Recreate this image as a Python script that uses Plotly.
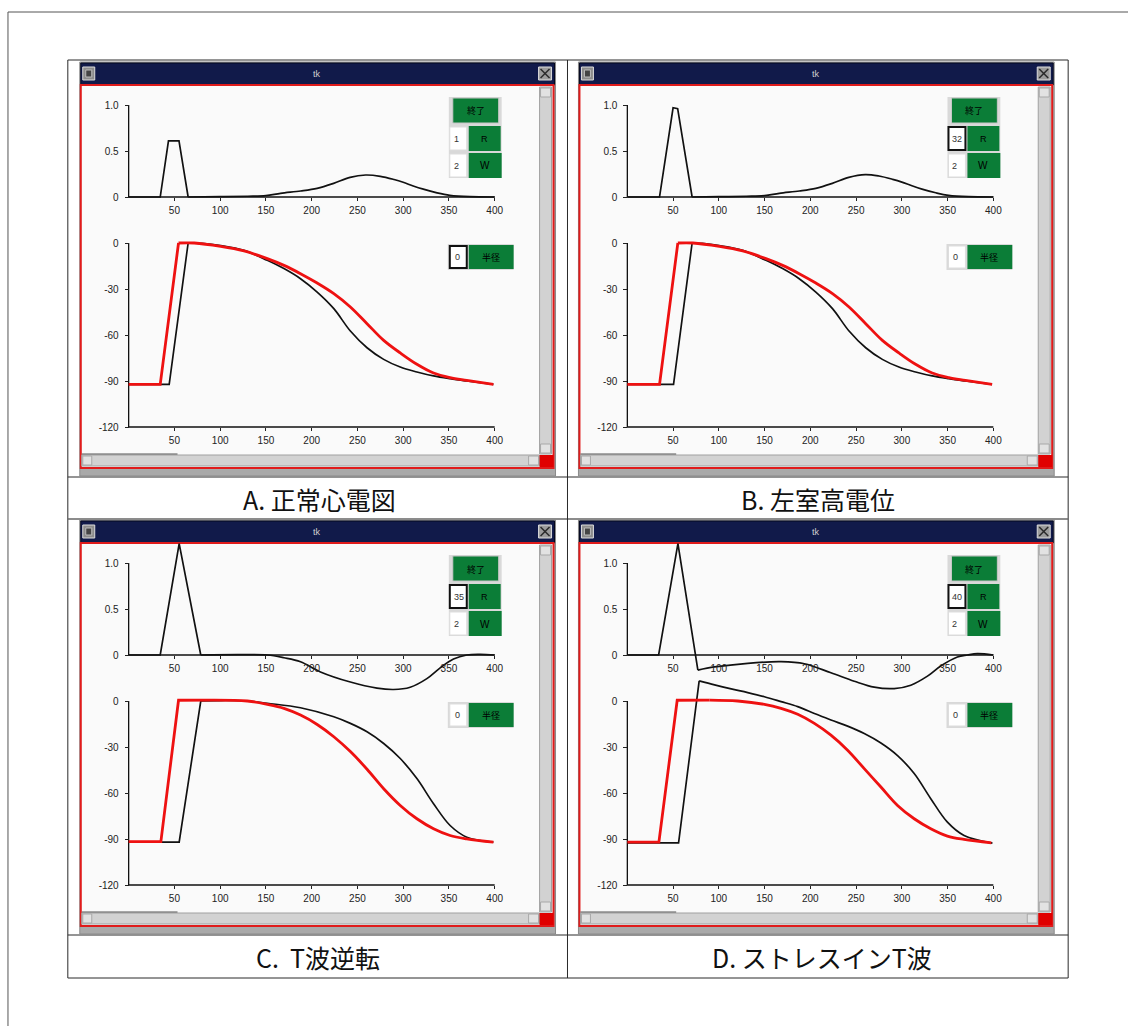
import plotly.graph_objects as go

W, H = 1131, 1026

# ---------------- data ----------------
captions = ["A. 正常心電図", "B. 左室高電位", "C.  T波逆転", "D. ストレスインT波"]
entry_r = ["1", "32", "35", "40"]
entry_w = ["2", "2", "2", "2"]
entry_rad = ["0", "0", "0", "0"]

ecg_ticks = [0, 0.5, 1.0]
ecg_tick_text = ["0", "0.5", "1.0"]
ap_ticks = [0, -30, -60, -90, -120]
ap_tick_text = ["0", "-30", "-60", "-90", "-120"]
time_ticks = [50, 100, 150, 200, 250, 300, 350, 400]
time_tick_text = ["50", "100", "150", "200", "250", "300", "350", "400"]

# Panel A
ecgA_x = [0, 34.5, 43.5, 55, 65, 100, 130, 150, 166, 188, 206, 224, 242, 259, 275, 290, 300, 311, 322, 337, 351, 373, 400]
ecgA_y = [0, 0, 0.61, 0.61, 0, 0.003, 0.008, 0.015, 0.04, 0.065, 0.094, 0.148, 0.214, 0.239, 0.225, 0.19, 0.16, 0.12, 0.085, 0.045, 0.018, 0.003, 0]
apA_red_x = [0, 34.5, 54.5, 71.6, 100.6, 126, 151.5, 169.7, 187.8, 206, 224.2, 242.3, 260.5, 278.7, 296.8, 315, 333.2, 351.3, 369.5, 398.6]
apA_red_y = [-92.2, -92.2, 0, 0, -2.2, -5.2, -10.2, -14.6, -20, -26.1, -33, -41.7, -52.6, -63.5, -71.7, -79.1, -84.8, -87.8, -89.6, -92.2]
apA_blk_x = [0, 44.3, 65, 80, 100.6, 126, 151.5, 169.7, 187.8, 206, 224.2, 242.3, 260.5, 278.7, 296.8, 315, 333.2, 351.3, 369.5, 398.6]
apA_blk_y = [-92.2, -92.2, 0, -0.3, -1.7, -4.8, -11.3, -16.7, -23.3, -32, -42.8, -57.4, -68.3, -75.9, -80.9, -84.1, -86.7, -88.5, -90, -92.2]

# Panel B
ecgB_x = [0, 35.2, 50, 55, 70.8, 100, 130, 150, 166, 188, 206, 224, 242, 260, 275, 290, 300, 311, 322, 337, 351, 373, 400]
ecgB_y = [0, 0, 0.97, 0.96, 0, 0.003, 0.008, 0.015, 0.04, 0.065, 0.094, 0.148, 0.214, 0.244, 0.228, 0.192, 0.162, 0.122, 0.086, 0.046, 0.018, 0.003, 0]
apB_red_x = [0, 35.2, 55.2, 71.6, 100.6, 126, 151.5, 169.7, 187.8, 206, 224.2, 242.3, 260.5, 278.7, 296.8, 315, 333.2, 351.3, 369.5, 398.6]
apB_red_y = [-92.2, -92.2, 0, 0, -2.2, -5.2, -10.2, -14.6, -20, -26.1, -33, -41.7, -52.6, -63.5, -71.7, -79.1, -84.8, -87.8, -89.6, -92.2]
apB_blk_x = [0, 50.5, 70.8, 82, 100.6, 126, 151.5, 169.7, 187.8, 206, 224.2, 242.3, 260.5, 278.7, 296.8, 315, 333.2, 351.3, 369.5, 398.6]
apB_blk_y = [-92.2, -92.2, 0, -0.3, -1.7, -4.8, -11.3, -16.7, -23.3, -32, -42.8, -57.4, -68.3, -75.9, -80.9, -84.1, -86.7, -88.5, -90, -92.2]

# Panel C
ecgC_x = [0, 34.5, 55.2, 78.8, 120, 151.5, 169.7, 187.8, 209.6, 242.3, 271.4, 289.6, 307.7, 325.9, 340.4, 355, 369.5, 384, 400]
ecgC_y = [0, 0, 1.21, 0, 0.003, 0, -0.03, -0.074, -0.184, -0.294, -0.36, -0.375, -0.35, -0.257, -0.14, -0.044, 0, 0.007, 0]
apC_red_x = [0, 35.2, 54.5, 90, 129.7, 151.5, 169.7, 187.8, 206, 224.2, 242.3, 260.5, 278.7, 296.8, 315, 333.2, 351.3, 369.5, 398.6]
apC_red_y = [-91.7, -91.7, 0.5, 0.6, 0, -2.2, -4.8, -9.2, -15.3, -23.3, -33, -44.5, -57.2, -68.1, -76.8, -83.3, -87.7, -89.9, -92.1]
apC_blk_x = [0, 55.2, 78.8, 100, 130, 151.5, 187.8, 224.2, 242.3, 260.5, 278.7, 296.8, 315, 333.2, 351.3, 369.5, 398.6]
apC_blk_y = [-92, -92, 0, 0.3, 0, -1.5, -4.4, -10.3, -14.6, -20.1, -27.7, -37.5, -50.6, -67, -81.2, -88.8, -92.1]

# Panel D
ecgD_x = [0, 34.2, 55.3, 77.1, 95.3, 131.6, 168, 193.5, 222.5, 248, 269.8, 291.6, 309.8, 328, 342.5, 360.7, 371.6, 382.5, 400]
ecgD_y = [0, 0, 1.21, -0.164, -0.13, -0.09, -0.073, -0.095, -0.193, -0.285, -0.35, -0.365, -0.328, -0.23, -0.12, -0.022, 0, 0.015, 0]
apD_red_x = [0, 34.5, 54.5, 90, 120.7, 149.8, 168, 186.2, 204.4, 222.5, 240.7, 258.9, 277.1, 295.3, 313.5, 331.6, 349.8, 368, 397.8]
apD_red_y = [-92, -92, 0.5, 0.6, 0, -2.2, -4.8, -8.7, -14.6, -22.3, -32.1, -44.1, -56.1, -68.1, -76.8, -83.3, -88.1, -90.3, -92.5]
apD_blk_x = [0, 56, 78.5, 95.3, 113.5, 131.6, 149.8, 168, 186.2, 204.4, 222.5, 240.7, 258.9, 277.1, 295.3, 313.5, 331.6, 349.8, 368, 399]
apD_blk_y = [-92.5, -92.5, 13.1, 10.5, 7.9, 5.5, 2.8, -0.4, -3.7, -8.1, -12.4, -16.4, -21.2, -27.4, -35.6, -47.3, -63.7, -79, -87.7, -92.7]

ecg_series = [(ecgA_x, ecgA_y), (ecgB_x, ecgB_y), (ecgC_x, ecgC_y), (ecgD_x, ecgD_y)]
red_series = [(apA_red_x, apA_red_y), (apB_red_x, apB_red_y), (apC_red_x, apC_red_y), (apD_red_x, apD_red_y)]
blk_series = [(apA_blk_x, apA_blk_y), (apB_blk_x, apB_blk_y), (apC_blk_x, apC_blk_y), (apD_blk_x, apD_blk_y)]

# ---------------- layout helpers ----------------
def fx(px):
    return px / W

def fy(py):
    return 1 - py / H

shapes = []
annotations = []

def rect(x0, y0, x1, y1, fill=None, line=None, lw=1, layer="below"):
    shapes.append(dict(type="rect", xref="paper", yref="paper",
                       x0=fx(x0), x1=fx(x1), y0=fy(y1), y1=fy(y0),
                       fillcolor=fill if fill else "rgba(0,0,0,0)",
                       line=dict(color=line if line else "rgba(0,0,0,0)", width=lw if line else 0),
                       layer=layer))

def hline(x0, x1, y, color, lw=1, layer="below"):
    shapes.append(dict(type="line", xref="paper", yref="paper",
                       x0=fx(x0), x1=fx(x1), y0=fy(y), y1=fy(y),
                       line=dict(color=color, width=lw), layer=layer))

def vline(x, y0, y1, color, lw=1, layer="below"):
    shapes.append(dict(type="line", xref="paper", yref="paper",
                       x0=fx(x), x1=fx(x), y0=fy(y0), y1=fy(y1),
                       line=dict(color=color, width=lw), layer=layer))

def seg(x0, y0, x1, y1, color, lw=1, layer="above"):
    shapes.append(dict(type="line", xref="paper", yref="paper",
                       x0=fx(x0), x1=fx(x1), y0=fy(y0), y1=fy(y1),
                       line=dict(color=color, width=lw), layer=layer))

def text(x, y, s, size=10, color="black", family="Noto Sans CJK JP", xanchor="center"):
    annotations.append(dict(xref="paper", yref="paper", x=fx(x), y=fy(y), text=s,
                            showarrow=False, xanchor=xanchor, yanchor="middle",
                            font=dict(size=size, color=color, family=family)))

GREEN = "#0b7d37"
fig = go.Figure()
layout = {}

# page outer border and table
vline(8, 12, 1026, "#555555", 1)
hline(8, 1131, 12, "#555555", 1)
rect(68, 60, 1071, 978, fill=None, line="#2a2a2a", lw=1)
hline(68, 1071, 477, "#2a2a2a", 1)
hline(68, 1071, 519, "#666666", 1.5)
hline(68, 1071, 935, "#2a2a2a", 1)
vline(569, 60, 978, "#2a2a2a", 1)

offsets = [(0, 0), (500, 0), (0, 458), (500, 458)]
cap_pos = [(320, 498.5), (820, 498.5), (319, 956.5), (824, 956.5)]

kx = 367.0 / 400.0
ky_t = 92.0
ky_b = 184.0 / 120.0
XR = [-6, 406]
YR_T = [-0.45, 1.3]
YR_B = [-124, 18]

tickfont = dict(size=10, family="Liberation Sans", color="#222222")


def add_curve(xs, ys, split, color, width, xa, ya):
    """Sharp part (upstroke / QRS) drawn straight, the rest smoothed by the library."""
    fig.add_trace(go.Scatter(x=xs[:split + 1], y=ys[:split + 1], mode="lines",
                             line=dict(color=color, width=width, shape="linear"),
                             xaxis=xa, yaxis=ya, hoverinfo="skip", showlegend=False))
    fig.add_trace(go.Scatter(x=xs[split:], y=ys[split:], mode="lines",
                             line=dict(color=color, width=width, shape="spline", smoothing=1.0),
                             xaxis=xa, yaxis=ya, hoverinfo="skip", showlegend=False))


for i, (ox, oy) in enumerate(offsets):
    # ---- window chrome ----
    rect(80 + ox, 62 + oy, 557 + ox, 476 + oy, fill="#a9a9a9", line="#8a8a8a")
    rect(81 + ox, 63 + oy, 556 + ox, 85 + oy, fill="#111a4a", line="#05081e")
    rect(83 + ox, 67 + oy, 95 + ox, 80 + oy, fill="#8c8c8c", line="#dcdcdc")
    rect(86 + ox, 70 + oy, 92 + ox, 77 + oy, fill="#444444", line="#bbbbbb")
    rect(540 + ox, 67 + oy, 553 + ox, 80 + oy, fill="#9c9c9c", line="#dcdcdc")
    seg(542 + ox, 69 + oy, 551 + ox, 78 + oy, "#2a2a2a", 1.5, "below")
    seg(542 + ox, 78 + oy, 551 + ox, 69 + oy, "#2a2a2a", 1.5, "below")
    text(318 + ox, 74 + oy, "tk", size=9, color="#d0d0d0", family="Liberation Sans")
    rect(81 + ox, 85 + oy, 555 + ox, 468 + oy, fill="#fafafa", line="#e01b1b", lw=2)
    # scrollbars
    rect(541 + ox, 87 + oy, 553 + ox, 454 + oy, fill="#d2d2d2", line="#a0a0a0")
    rect(542 + ox, 88 + oy, 552 + ox, 97 + oy, fill="#e2e2e2", line="#a8a8a8")
    rect(542 + ox, 444 + oy, 552 + ox, 453 + oy, fill="#e2e2e2", line="#a8a8a8")
    rect(82 + ox, 455 + oy, 541 + ox, 466 + oy, fill="#d2d2d2", line="#a0a0a0")
    rect(83 + ox, 456 + oy, 92 + ox, 465 + oy, fill="#e2e2e2", line="#a8a8a8")
    rect(530 + ox, 456 + oy, 540 + ox, 465 + oy, fill="#e2e2e2", line="#a8a8a8")
    hline(82 + ox, 178 + ox, 454 + oy, "#555555", 1)
    rect(541 + ox, 455 + oy, 555 + ox, 467 + oy, fill="#e00000")
    # buttons
    rect(450 + ox, 97 + oy, 503 + ox, 178 + oy, fill="#d9d9d9")
    rect(454 + ox, 98 + oy, 500 + ox, 123 + oy, fill=GREEN, line="#c8c8c8")
    text(477 + ox, 111 + oy, "終了", size=9)
    rect(451 + ox, 127 + oy, 468 + ox, 150 + oy, fill="#ffffff",
         line="#111111" if i > 0 else "#dddddd", lw=2 if i > 0 else 1)
    text(453 + ox, 139 + oy, entry_r[i], size=9, color="#333333", family="Liberation Sans", xanchor="left")
    rect(470 + ox, 126 + oy, 502 + ox, 151 + oy, fill=GREEN)
    text(486 + ox, 139 + oy, "R", size=9, family="Liberation Sans")
    rect(451 + ox, 154 + oy, 468 + ox, 177 + oy, fill="#ffffff", line="#dddddd")
    text(453 + ox, 166 + oy, entry_w[i], size=9, color="#333333", family="Liberation Sans", xanchor="left")
    rect(470 + ox, 153 + oy, 503 + ox, 178 + oy, fill=GREEN)
    text(486 + ox, 166 + oy, "W", size=10, family="Liberation Sans")
    rect(449 + ox, 244 + oy, 515 + ox, 270 + oy, fill="#d9d9d9")
    rect(451 + ox, 246 + oy, 468 + ox, 268 + oy, fill="#ffffff",
         line="#111111" if i == 0 else "#dddddd", lw=2 if i == 0 else 1)
    text(454 + ox, 257 + oy, entry_rad[i], size=9, color="#333333", family="Liberation Sans", xanchor="left")
    rect(470 + ox, 245 + oy, 515 + ox, 269 + oy, fill=GREEN)
    text(492 + ox, 257 + oy, "半径", size=9)
    # caption
    text(cap_pos[i][0], cap_pos[i][1], captions[i], size=25, color="#111111")

    # ---- axes ----
    nt = 2 * i + 1
    nb = 2 * i + 2
    x0px = 129 + ox
    zt = 197 + oy
    zb = 243 + oy
    xdom = [fx(x0px + XR[0] * kx), fx(x0px + XR[1] * kx)]
    for n, zero, ky, yr, tv, tt, axis_y in [
        (nt, zt, ky_t, YR_T, ecg_ticks, ecg_tick_text, zt),
        (nb, zb, ky_b, YR_B, ap_ticks, ap_tick_text, zb + 120 * ky_b),
    ]:
        layout["xaxis" if n == 1 else f"xaxis{n}"] = dict(
            domain=xdom, range=XR, anchor="free", position=fy(axis_y),
            showgrid=False, zeroline=False, showline=False,
            tickmode="array", tickvals=time_ticks, ticktext=time_tick_text,
            ticks="outside", ticklen=3, tickwidth=1, tickcolor="#222222",
            ticklabelstandoff=1, tickfont=tickfont, fixedrange=True)
        layout["yaxis" if n == 1 else f"yaxis{n}"] = dict(
            domain=[fy(zero - yr[0] * ky), fy(zero - yr[1] * ky)], range=yr,
            anchor="free", position=fx(x0px),
            showgrid=False, zeroline=False, showline=False,
            tickmode="array", tickvals=tv, ticktext=tt,
            ticks="outside", ticklen=4, tickwidth=1, tickcolor="#222222",
            ticklabelstandoff=4, tickfont=tickfont, fixedrange=True)

    xt = "x" if nt == 1 else f"x{nt}"
    yt = "y" if nt == 1 else f"y{nt}"
    xb, yb = f"x{nb}", f"y{nb}"
    # axis lines drawn through data coordinates
    fig.add_trace(go.Scatter(x=[0, 0, 400], y=[ecg_ticks[-1], 0, 0], mode="lines",
                             line=dict(color="#111111", width=1.3), xaxis=xt, yaxis=yt,
                             hoverinfo="skip", showlegend=False))
    fig.add_trace(go.Scatter(x=[0, 0, 400], y=[0, ap_ticks[-1], ap_ticks[-1]], mode="lines",
                             line=dict(color="#111111", width=1.3), xaxis=xb, yaxis=yb,
                             hoverinfo="skip", showlegend=False))
    # ECG: straight QRS, smooth after it
    ex, ey = ecg_series[i]
    pk = ey.index(max(ey))
    qrs_end = next(j for j in range(pk + 1, len(ey)) if ey[j] <= 0)
    add_curve(ex, ey, qrs_end, "#111111", 1.7, xt, yt)
    # action potentials: straight upstroke, smooth repolarisation
    bx, by = blk_series[i]
    add_curve(bx, by, by.index(max(by)), "#111111", 1.7, xb, yb)
    rx, ry = red_series[i]
    add_curve(rx, ry, ry.index(max(ry)), "#ee1111", 2.8, xb, yb)

layout.update(dict(
    width=W, height=H, autosize=False,
    margin=dict(l=0, r=0, t=0, b=0, pad=0),
    paper_bgcolor="white", plot_bgcolor="rgba(0,0,0,0)",
    shapes=shapes, annotations=annotations, showlegend=False,
))
fig.update_layout(**layout)
fig.write_html("out.html", config={"displayModeBar": False},
               post_script="document.body.style.margin='0';document.body.style.overflow='hidden';")
